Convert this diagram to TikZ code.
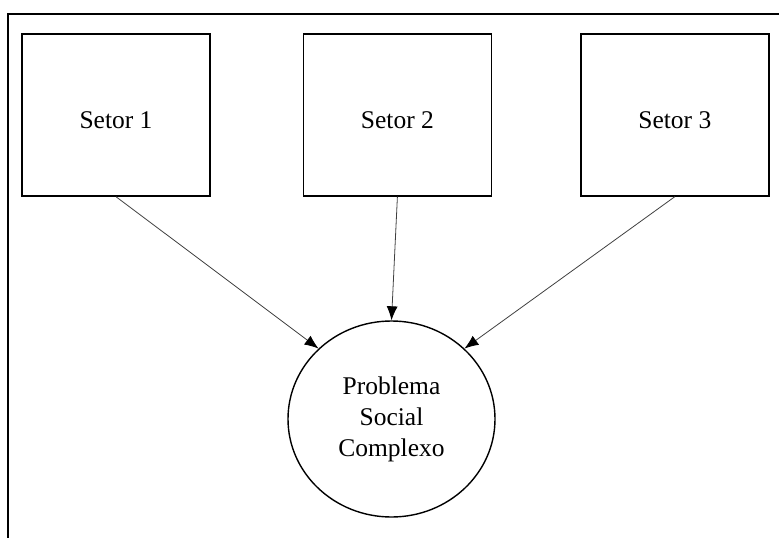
\documentclass[tikz,border=0pt]{standalone}
\usepackage{fontspec}
\setmainfont{Liberation Serif}
\usetikzlibrary{positioning}
\usetikzlibrary{arrows.meta,shapes.geometric}
\tikzset{edge/.style = {->,> = {Latex[length=14pt,width=11pt,color=black]}, draw=black!75, line width=0.8pt}}

\begin{document}
\begin{tikzpicture}[x=1pt,y=-1pt,node distance=90pt,
    sector/.style={rectangle,draw,line width=1.4pt,minimum width=188pt,minimum height=162pt,text height=30pt,text depth=4pt,font=\fontsize{25.5}{31}\selectfont},
    problem/.style={ellipse,draw,line width=1.4pt,minimum width=207pt,minimum height=196pt,align=center,font=\fontsize{25.5}{31}\selectfont}]
            \useasboundingbox (0,0) rectangle (779,538);
            \draw[line width=2pt] (8,538) -- (8,14) -- (779,14);
            \node[sector] (s1) at (116,115) {Setor 1};
            \node[sector] (s2) [right=92pt of s1] {Setor 2};
            \node[sector] (s3) [right=88pt of s2] {Setor 3};
            \node[problem] (prob) at (391.5,419) {Problema\\Social\\Complexo};
            \draw[edge] (s1.south) -- (prob.136);
            \draw[edge] (s2.south) -- (prob.north);
            \draw[edge] (s3.south) -- (prob.44);
        \end{tikzpicture}
\end{document}
